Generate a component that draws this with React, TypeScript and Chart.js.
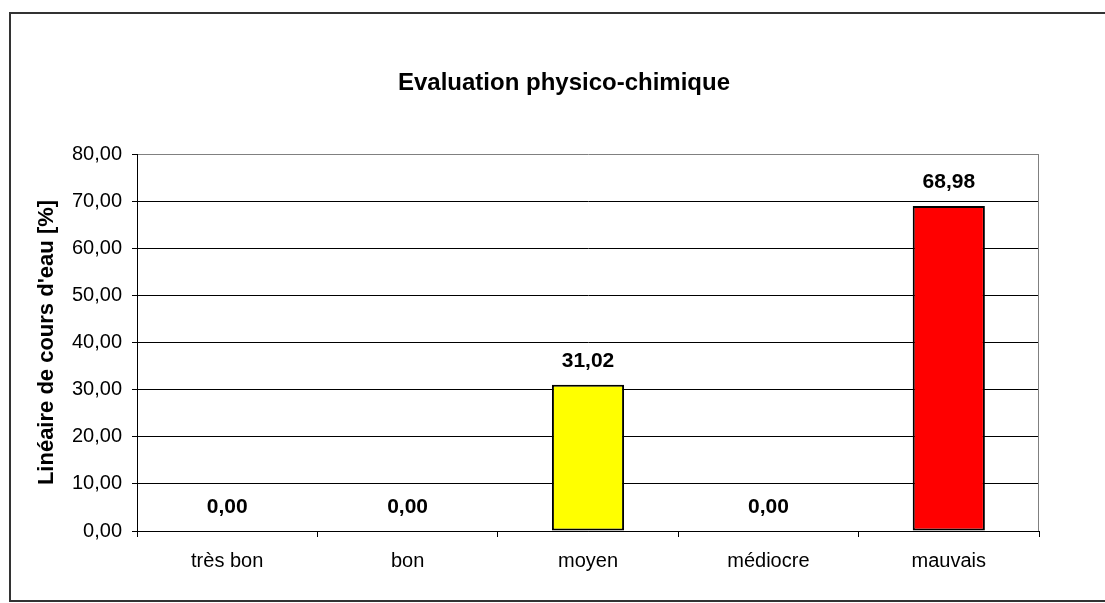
import React, { useEffect, useRef } from "react";
import { Chart, registerables } from "chart.js";

Chart.register(...registerables);

const chartTitle = "Evaluation physico-chimique";
const yAxisTitle = "Linéaire de cours d'eau [%]";
const categories = ["très bon", "bon", "moyen", "médiocre", "mauvais"];
const values = [0, 0, 31.02, 0, 68.98];
const yMin = 0;
const yMax = 80;
const yStep = 10;

const barColors = ["#FFFF00", "#FFFF00", "#FFFF00", "#FFFF00", "#FF0000"];
const FONT = "'Liberation Sans', Arial, sans-serif";

const fmt = (v: number) => v.toFixed(2).replace(".", ",");

export default function App() {
  const ref = useRef<HTMLCanvasElement | null>(null);

  useEffect(() => {
    const canvas = ref.current;
    if (!canvas) return;

    const framePlugin = {
      id: "frame",
      beforeDraw(chart: any) {
        const ctx = chart.ctx;
        ctx.save();
        ctx.strokeStyle = "#333333";
        ctx.lineWidth = 2;
        ctx.strokeRect(10, 13, 1190, 588);
        // title
        ctx.fillStyle = "#000";
        ctx.font = `bold 24px ${FONT}`;
        ctx.textAlign = "center";
        ctx.textBaseline = "alphabetic";
        ctx.fillText(chartTitle, 564, 89.5);
        ctx.restore();
      },
      beforeDatasetsDraw(chart: any) {
        const { ctx, chartArea } = chart;
        ctx.save();
        ctx.strokeStyle = "#808080";
        ctx.lineWidth = 1;
        ctx.beginPath();
        const x = Math.round(chartArea.right) - 0.5;
        ctx.moveTo(x, chartArea.top);
        ctx.lineTo(x, chartArea.bottom);
        ctx.stroke();
        ctx.restore();
      },
      afterDatasetsDraw(chart: any) {
        const ctx = chart.ctx;
        const meta = chart.getDatasetMeta(0);
        ctx.save();
        ctx.fillStyle = "#000";
        ctx.font = `bold 21px ${FONT}`;
        ctx.textAlign = "center";
        ctx.textBaseline = "alphabetic";
        meta.data.forEach((bar: any, i: number) => {
          ctx.fillText(fmt(values[i]), bar.x, bar.y - 18);
        });
        ctx.restore();
      },
    };

    const chart = new Chart(canvas, {
      type: "bar",
      data: {
        labels: categories,
        datasets: [
          {
            data: values,
            backgroundColor: barColors,
            borderColor: "#000000",
            borderWidth: 2,
            borderSkipped: false,
            barPercentage: 0.4,
            categoryPercentage: 1,
          },
        ],
      },
      options: {
        responsive: false,
        animation: false,
        devicePixelRatio: 1,
        layout: { padding: { left: 31, top: 154, right: 66, bottom: 0 } },
        plugins: {
          legend: { display: false },
          title: { display: false },
          tooltip: { enabled: false },
        },
        scales: {
          x: {
            grid: {
              display: true,
              drawOnChartArea: false,
              drawTicks: true,
              tickLength: 6,
              offset: true,
              color: "#000000",
            },
            border: { display: true, color: "#000000", width: 1 },
            ticks: {
              color: "#000000",
              font: { family: FONT, size: 20 },
              padding: 12,
              maxRotation: 0,
            },
            afterFit(scale: any) {
              scale.height = 72;
            },
          },
          y: {
            min: yMin,
            max: yMax,
            ticks: {
              stepSize: yStep,
              color: "#000000",
              font: { family: FONT, size: 20 },
              padding: 10,
              callback: (v: any) => fmt(Number(v)),
            },
            grid: {
              color: (c: any) => (c.tick && c.tick.value === yMax ? "#808080" : "#000000"),
              tickColor: "#000000",
              tickLength: 5,
              lineWidth: 1,
            },
            border: { display: true, color: "#000000", width: 1 },
            title: {
              display: true,
              text: yAxisTitle,
              color: "#000000",
              font: { family: FONT, size: 22, weight: "bold" },
              padding: { top: 3, bottom: 4 },
            },
            afterFit(scale: any) {
              scale.width = 106;
            },
          },
        },
      },
      plugins: [framePlugin],
    });

    return () => chart.destroy();
  }, []);

  return (
    <canvas
      ref={ref}
      width={1105}
      height={603}
      style={{ position: "fixed", left: 0, top: 0, width: 1105, height: 603, display: "block" }}
    />
  );
}
